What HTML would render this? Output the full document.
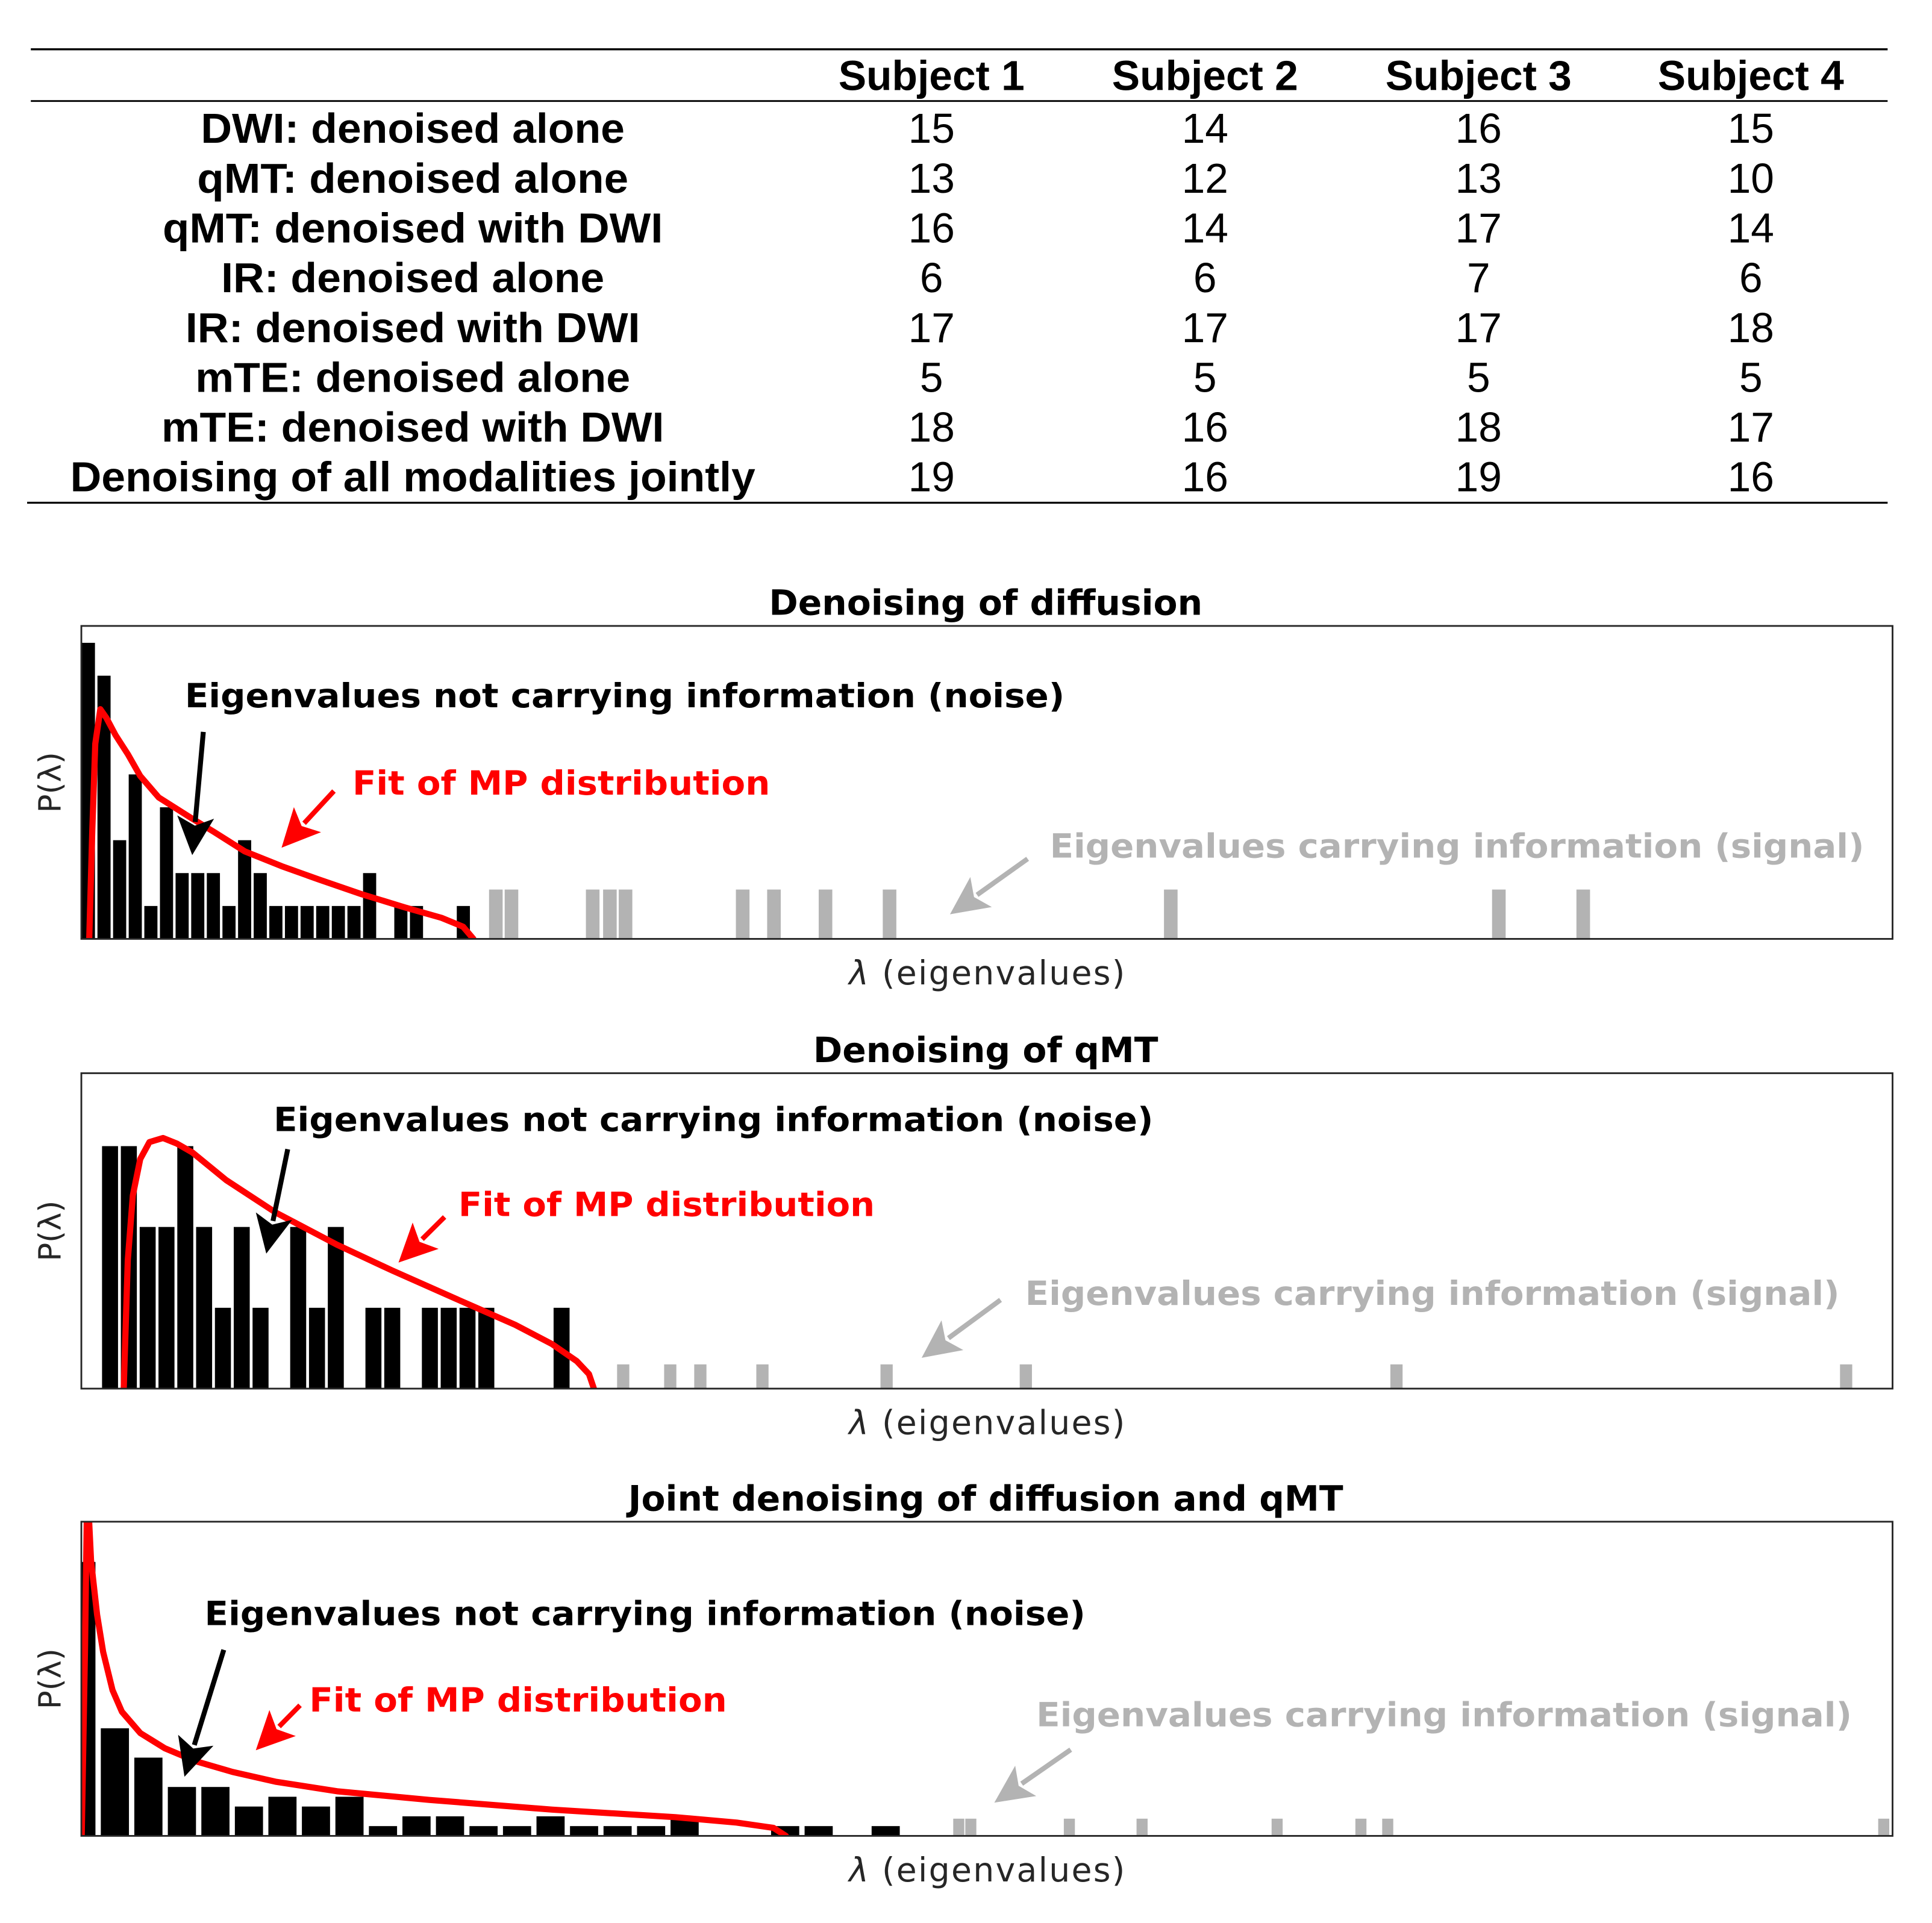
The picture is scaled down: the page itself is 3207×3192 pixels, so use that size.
<!DOCTYPE html>
<html><head><meta charset="utf-8"><style>
html,body{margin:0;padding:0;background:#fff;}
svg{display:block;}
.tb{font-family:"Liberation Sans",Arial,sans-serif;font-size:34px;fill:#000;}
.dj{font-family:"DejaVu Sans",sans-serif;}
</style></head><body>
<svg id="fig" width="3207" height="3192" viewBox="0 0 1568 1560.7" xmlns="http://www.w3.org/2000/svg">
<rect x="0" y="0" width="1568" height="1561" fill="#fff"/>
<g id="table">
<line x1="25" y1="40" x2="1532" y2="40" stroke="#000" stroke-width="1.6"/>
<line x1="25" y1="82" x2="1532" y2="82" stroke="#000" stroke-width="1.4"/>
<line x1="22" y1="408" x2="1532" y2="408" stroke="#000" stroke-width="1.6"/>
</g>
<g id="charts"></g>
</svg>
<script>
// ---- table data ----
const subjects = ["Subject 1","Subject 2","Subject 3","Subject 4"];
const rowLabels = ["DWI: denoised alone","qMT: denoised alone","qMT: denoised with DWI","IR: denoised alone","IR: denoised with DWI","mTE: denoised alone","mTE: denoised with DWI","Denoising of all modalities jointly"];
const rowValues = [[15,14,16,15],[13,12,13,10],[16,14,17,14],[6,6,7,6],[17,17,17,18],[5,5,5,5],[18,16,18,17],[19,16,19,16]];

// ---- chart 1: diffusion ----
const c1Counts = [9,8,3,5,1,4,2,2,2,1,3,2,1,1,1,1,1,1,2,0,1,1,0,0,1];
const c1Signal = [26.5,27.5,32.7,33.8,34.8,42.3,44.3,47.6,51.7,69.7,90.7,96.1];
const c1FitX = [0.47,0.67,0.86,1.18,1.57,2.16,2.95,3.74,4.92,6.88,8.46,10.43,12.79,15.15,17.9,20.66,23.02,24.4,25.06];
const c1FitY = [0,3.32,5.93,6.98,6.72,6.19,5.61,4.95,4.30,3.71,3.25,2.66,2.21,1.81,1.36,0.96,0.64,0.37,0];
// ---- chart 2: qMT ----
const c2Counts = [3,3,2,2,3,2,1,2,1,0,2,1,2,0,1,1,0,1,1,1,1,0,0,0,1];
const c2Signal = [27.7,30.2,31.8,35.1,41.7,49.1,68.8,92.7];
const c2FitX = [1.15,1.37,1.64,2.03,2.52,3.24,3.99,4.81,6.60,9.22,12.49,15.43,19.02,21.96,23.92,25.23,25.88,26.14];
const c2FitY = [0,1.59,2.39,2.84,3.05,3.10,3.03,2.92,2.58,2.18,1.78,1.46,1.09,0.79,0.55,0.34,0.18,0];
// ---- chart 3: joint ----
const c3Counts = [28,11,8,5,5,3,4,3,4,1,2,2,1,1,2,1,1,1,2,0,0,1,1,0,1];
const c3Signal = [25.6,25.96,28.9,31.07,35.1,37.6,38.4,53.2];
const c3FitX = [-0.57,-0.47,-0.42,-0.39,-0.36,-0.29,-0.11,0.07,0.35,0.63,1.18,1.91,2.83,3.93,5.21,7.05,9.8,13.47,17.14,18.97,20.07,20.44];
const c3FitY = [0,19.3,32.5,36,33,28.1,22.6,18.8,14.9,12.7,10.5,8.95,7.63,6.54,5.54,4.56,3.68,2.68,1.91,1.36,0.82,0];

const NS = "http://www.w3.org/2000/svg";
function mk(tag, attrs, parent){const e=document.createElementNS(NS,tag);for(const k in attrs)e.setAttribute(k,attrs[k]);parent.appendChild(e);return e;}

// table
const tbl = document.getElementById('table');
const colX = [756,978,1200,1421];
subjects.forEach((s,i)=>{
  const t = mk('text',{x:colX[i],y:73,'text-anchor':'middle','font-weight':'bold',class:'tb'},tbl);
  t.textContent = s;
  
  
});
const labelW = [344,350,406,311,369,353,408,556];
rowLabels.forEach((r,i)=>{
  const y = 116 + i*40.4;
  const t = mk('text',{x:335,y:y,'text-anchor':'middle','font-weight':'bold',class:'tb',textLength:labelW[i],lengthAdjust:'spacingAndGlyphs'},tbl);
  t.textContent = r;
  
  
  rowValues[i].forEach((v,j)=>{
    const c = mk('text',{x:colX[j],y:y,'text-anchor':'middle',class:'tb'},tbl);
    c.textContent = v;
    
    
  });
});

// charts
const charts = [
 {id:'c1',title:'Denoising of diffusion',top:508,bottom:762,x0:66.4,per:12.68,yPer:26.7,start:0,barW:0.84,sigW:0.87,sigH:1.5,
  counts:c1Counts,signal:c1Signal,fx:c1FitX,fy:c1FitY,titleY:499,
  noise:{x:150,y:574,w:714},red:{x:286,y:645,w:339},gray:{x:852,y:696,w:661},
  arrows:[['#000',165,594,156,694],['#ff0000',271,642,228.5,688],['#b3b3b3',834,697,771,742]]},
 {id:'c2',title:'Denoising of qMT',top:871,bottom:1127,x0:82.8,per:15.27,yPer:65.6,start:0,barW:0.85,sigW:0.65,sigH:0.3,
  counts:c2Counts,signal:c2Signal,fx:c2FitX,fy:c2FitY,titleY:862,
  noise:{x:222,y:918,w:714},red:{x:372,y:987,w:338},gray:{x:832,y:1059,w:661},
  arrows:[['#000',233.5,932.7,216.1,1017.4],['#ff0000',360.8,987.7,323.4,1024.7],['#b3b3b3',812,1055,748,1102]]},
 {id:'c3',title:'Joint denoising of diffusion and qMT',top:1235,bottom:1490,x0:81.8,per:27.2,yPer:7.94,start:-1,barW:0.84,sigW:0.33,sigH:1.76,
  counts:c3Counts,signal:c3Signal,fx:c3FitX,fy:c3FitY,titleY:1226,
  noise:{x:166,y:1319,w:715},red:{x:251,y:1389,w:339},gray:{x:841,y:1401,w:662},
  arrows:[['#000',181.6,1339,149.7,1442],['#ff0000',243.5,1384,207.6,1420.5],['#b3b3b3',869,1420,807,1463]]}
];
const root = document.getElementById('charts');
const L=66,R=1536;
charts.forEach(c=>{
  const g = mk('g',{},root);
  
  
  const X = v => c.x0 + v*c.per;
  const Y = v => c.bottom - v*c.yPer;
  const cp = mk('clipPath',{id:'clip-'+c.id},g);
  mk('rect',{x:L,y:c.top,width:R-L,height:c.bottom-c.top},cp);
  const t = mk('text',{x:800,y:c.titleY,'text-anchor':'middle','font-weight':'bold','font-size':28.5,class:'dj'},g);
  t.textContent = c.title;
  
  
  const pg = mk('g',{'clip-path':'url(#clip-'+c.id+')'},g);
  c.counts.forEach((n,i)=>{
    if(!n) return;
    const r = mk('rect',{x:X(c.start+i),y:Y(n),width:c.barW*c.per,height:n*c.yPer,fill:'#000'},pg);
    
    
  });
  c.signal.forEach(v=>{
    const w=c.sigW*c.per;
    const r = mk('rect',{x:X(v)-w/2,y:Y(c.sigH),width:w,height:c.sigH*c.yPer,fill:'#b3b3b3'},pg);
    
    
  });
  const pts = c.fx.map((v,i)=>X(v).toFixed(1)+','+Y(c.fy[i]).toFixed(1)).join(' ');
  const pl = mk('polyline',{points:pts,fill:'none',stroke:'#ff0000','stroke-width':5,'stroke-linejoin':'round','stroke-linecap':'round'},pg);
  
  
  const fr = mk('rect',{x:L,y:c.top,width:R-L,height:c.bottom-c.top,fill:'none',stroke:'#262626','stroke-width':1.4},g);
  
  
  const my=(c.top+c.bottom)/2;
  const yl = mk('text',{x:0,y:0,transform:'translate(49,'+my+') rotate(-90)','text-anchor':'middle','font-size':25,fill:'#262626',class:'dj'},g);
  yl.textContent = 'P(λ)';
  
  
  const xl = mk('text',{x:689,y:c.bottom+37,'font-size':27,fill:'#262626',class:'dj',textLength:224,lengthAdjust:'spacing'},g);
  xl.innerHTML = '<tspan font-style="italic">λ</tspan>   (eigenvalues)';
  
  
  const nt = mk('text',{x:c.noise.x,y:c.noise.y,'font-weight':'bold','font-size':27,class:'dj',fill:'#000',textLength:c.noise.w,lengthAdjust:'spacingAndGlyphs'},g);
  nt.textContent='Eigenvalues not carrying information (noise)';
  
  
  const rt = mk('text',{x:c.red.x,y:c.red.y,'font-weight':'bold','font-size':27,class:'dj',fill:'#ff0000',textLength:c.red.w,lengthAdjust:'spacingAndGlyphs'},g);
  rt.textContent='Fit of MP distribution';
  
  
  const gt = mk('text',{x:c.gray.x,y:c.gray.y,'font-weight':'bold','font-size':27,class:'dj',fill:'#b3b3b3',textLength:c.gray.w,lengthAdjust:'spacingAndGlyphs'},g);
  gt.textContent='Eigenvalues carrying information (signal)';
  
  
  c.arrows.forEach(a=>{
    const [col,x1,y1,x2,y2]=a;
    const dx=x2-x1,dy=y2-y1,len=Math.hypot(dx,dy),ux=dx/len,uy=dy/len;
    const Lh=31,hw=15;
    const bx=x2-ux*Lh,by=y2-uy*Lh;
    const ag = mk('g',{},g);
    
    
    mk('line',{x1:x1,y1:y1,x2:bx+ux*4,y2:by+uy*4,stroke:col,'stroke-width':4},ag);
    mk('polygon',{points:[x2,y2,bx-uy*hw,by+ux*hw,bx+ux*7,by+uy*7,bx+uy*hw,by-ux*hw].join(','),fill:col},ag);
  });
});
</script>
</body></html>
